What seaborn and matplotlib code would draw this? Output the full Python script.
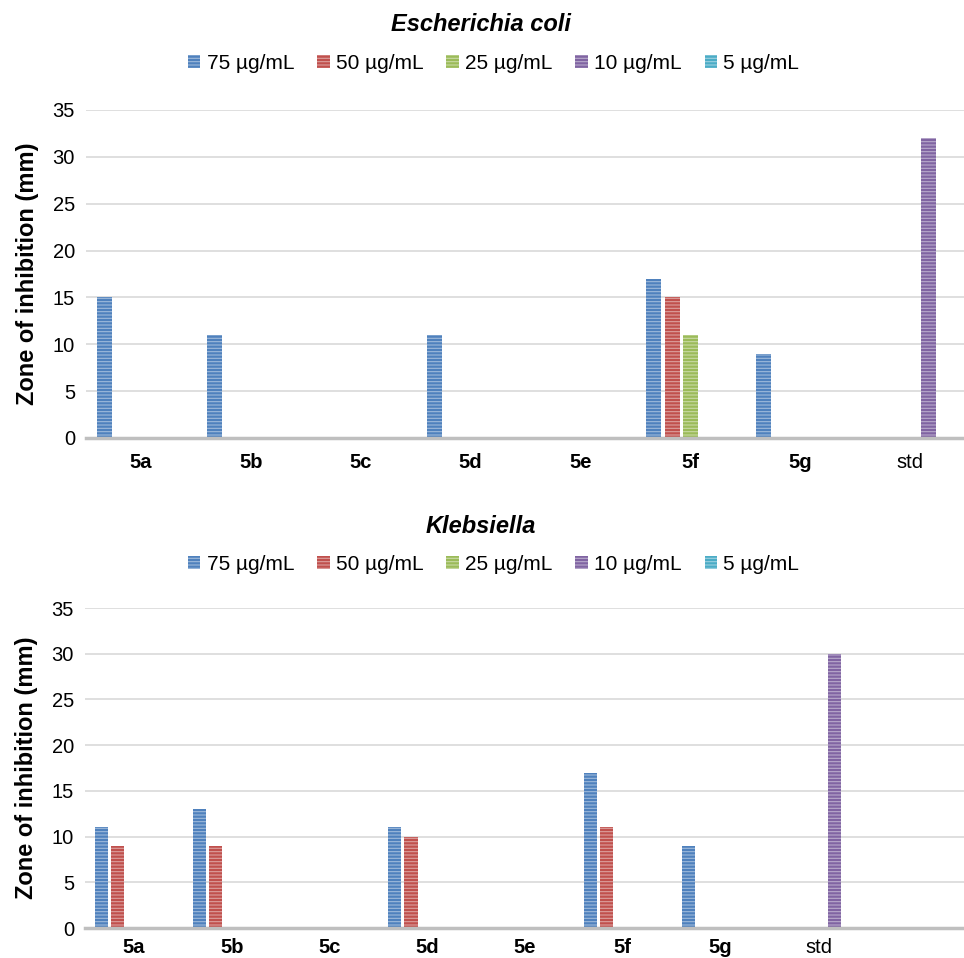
import pandas as pd
import numpy as np
import matplotlib
matplotlib.use('Agg')
import matplotlib.pyplot as plt
import matplotlib.patches as mpatches
import seaborn as sns

# ── Data ───────────────────────────────────────────────────────────────────────
COMPOUNDS = ['5a', '5b', '5c', '5d', '5e', '5f', '5g', 'std']
CONCS = ['75 µg/mL', '50 µg/mL', '25 µg/mL', '10 µg/mL', '5 µg/mL']

ECOLI_75 = [15, 11, 0, 11, 0, 17, 9, 0]
ECOLI_50 = [0, 0, 0, 0, 0, 15, 0, 0]
ECOLI_25 = [0, 0, 0, 0, 0, 11, 0, 0]
ECOLI_10 = [0, 0, 0, 0, 0, 0, 0, 32]
ECOLI_5 = [0, 0, 0, 0, 0, 0, 0, 0]

KLEB_75 = [11, 13, 0, 11, 0, 17, 9, 0]
KLEB_50 = [9, 9, 0, 10, 0, 11, 0, 0]
KLEB_25 = [0, 0, 0, 0, 0, 0, 0, 0]
KLEB_10 = [0, 0, 0, 0, 0, 0, 0, 30]
KLEB_5 = [0, 0, 0, 0, 0, 0, 0, 0]

COLORS = ['#4F81BD', '#C0504D', '#9BBB59', '#8064A2', '#4BACC6']


def long_df(series):
    rows = []
    for conc, vals in zip(CONCS, series):
        for comp, v in zip(COMPOUNDS, vals):
            rows.append({'compound': comp, 'conc': conc, 'zone': v})
    return pd.DataFrame(rows)


def lighten(c, f=0.45):
    rgb = np.array(matplotlib.colors.to_rgb(c))
    return tuple(rgb + (1 - rgb) * f)


sns.set_theme(style='white')
plt.rcParams['font.family'] = ['Liberation Sans', 'DejaVu Sans']
plt.rcParams['text.color'] = 'black'
plt.rcParams['axes.labelcolor'] = 'black'
plt.rcParams['hatch.linewidth'] = 0.8

HATCH = '-----'

fig = plt.figure(figsize=(9.64, 9.58), dpi=100)
ax_top = fig.add_axes([0.0892, 0.5428, 0.912, 0.3424])
ax_bot = fig.add_axes([0.0882, 0.0313, 0.913, 0.3340])


def draw(ax, series, n_slots, xpad):
    df = long_df(series)
    sns.barplot(data=df, x='compound', y='zone', hue='conc',
                order=COMPOUNDS, hue_order=CONCS, palette=COLORS,
                saturation=1, width=0.83, gap=0.18, legend=False,
                errorbar=None, ax=ax)
    # Excel-style horizontal line pattern on the bars
    for cont, col in zip(ax.containers, COLORS):
        for p in cont.patches:
            p.set_hatch(HATCH)
            p.set_edgecolor(lighten(col))
            p.set_linewidth(0)
    ax.set_xlim(-0.5, n_slots - 0.5)
    ax.set_ylim(0, 35)
    ax.set_yticks(range(0, 36, 5))
    ax.yaxis.grid(True, color='#D9D9D9', linewidth=1.2)
    ax.set_axisbelow(True)
    for s in ['top', 'right', 'left']:
        ax.spines[s].set_visible(False)
    ax.spines['bottom'].set_color('#BFBFBF')
    ax.spines['bottom'].set_linewidth(2.5)
    ax.tick_params(axis='both', length=0, labelsize=14.5,
                   colors='black', labelcolor='black')
    ax.tick_params(axis='x', pad=xpad)
    ax.tick_params(axis='y', pad=8)
    for lab in ax.get_xticklabels():
        if lab.get_text() != 'std':
            lab.set_fontweight('bold')
    ax.set_xlabel('')
    ax.set_ylabel('Zone of inhibition (mm)', fontsize=17, fontweight='bold',
                  labelpad=10, color='black')


draw(ax_top, [ECOLI_75, ECOLI_50, ECOLI_25, ECOLI_10, ECOLI_5], 8, 11)
draw(ax_bot, [KLEB_75, KLEB_50, KLEB_25, KLEB_10, KLEB_5], 9, 7)

handles = [mpatches.Patch(facecolor=c, edgecolor=lighten(c), hatch=HATCH,
                          linewidth=0, label=l) for c, l in zip(COLORS, CONCS)]

for y_title, y_leg, title in [(0.974, 0.934, 'Escherichia coli'),
                              (0.450, 0.411, 'Klebsiella')]:
    fig.text(0.499, y_title, title, ha='center', va='center',
             fontsize=17, fontweight='bold', fontstyle='italic',
             color='black')
    fig.legend(handles=handles, loc='center', bbox_to_anchor=(0.512, y_leg),
               ncol=5, frameon=False, fontsize=15, handlelength=0.6,
               handleheight=0.6, handletextpad=0.3, columnspacing=1.1,
               labelcolor='black')

plt.savefig('out.png', dpi=100, facecolor='white')
plt.close()
